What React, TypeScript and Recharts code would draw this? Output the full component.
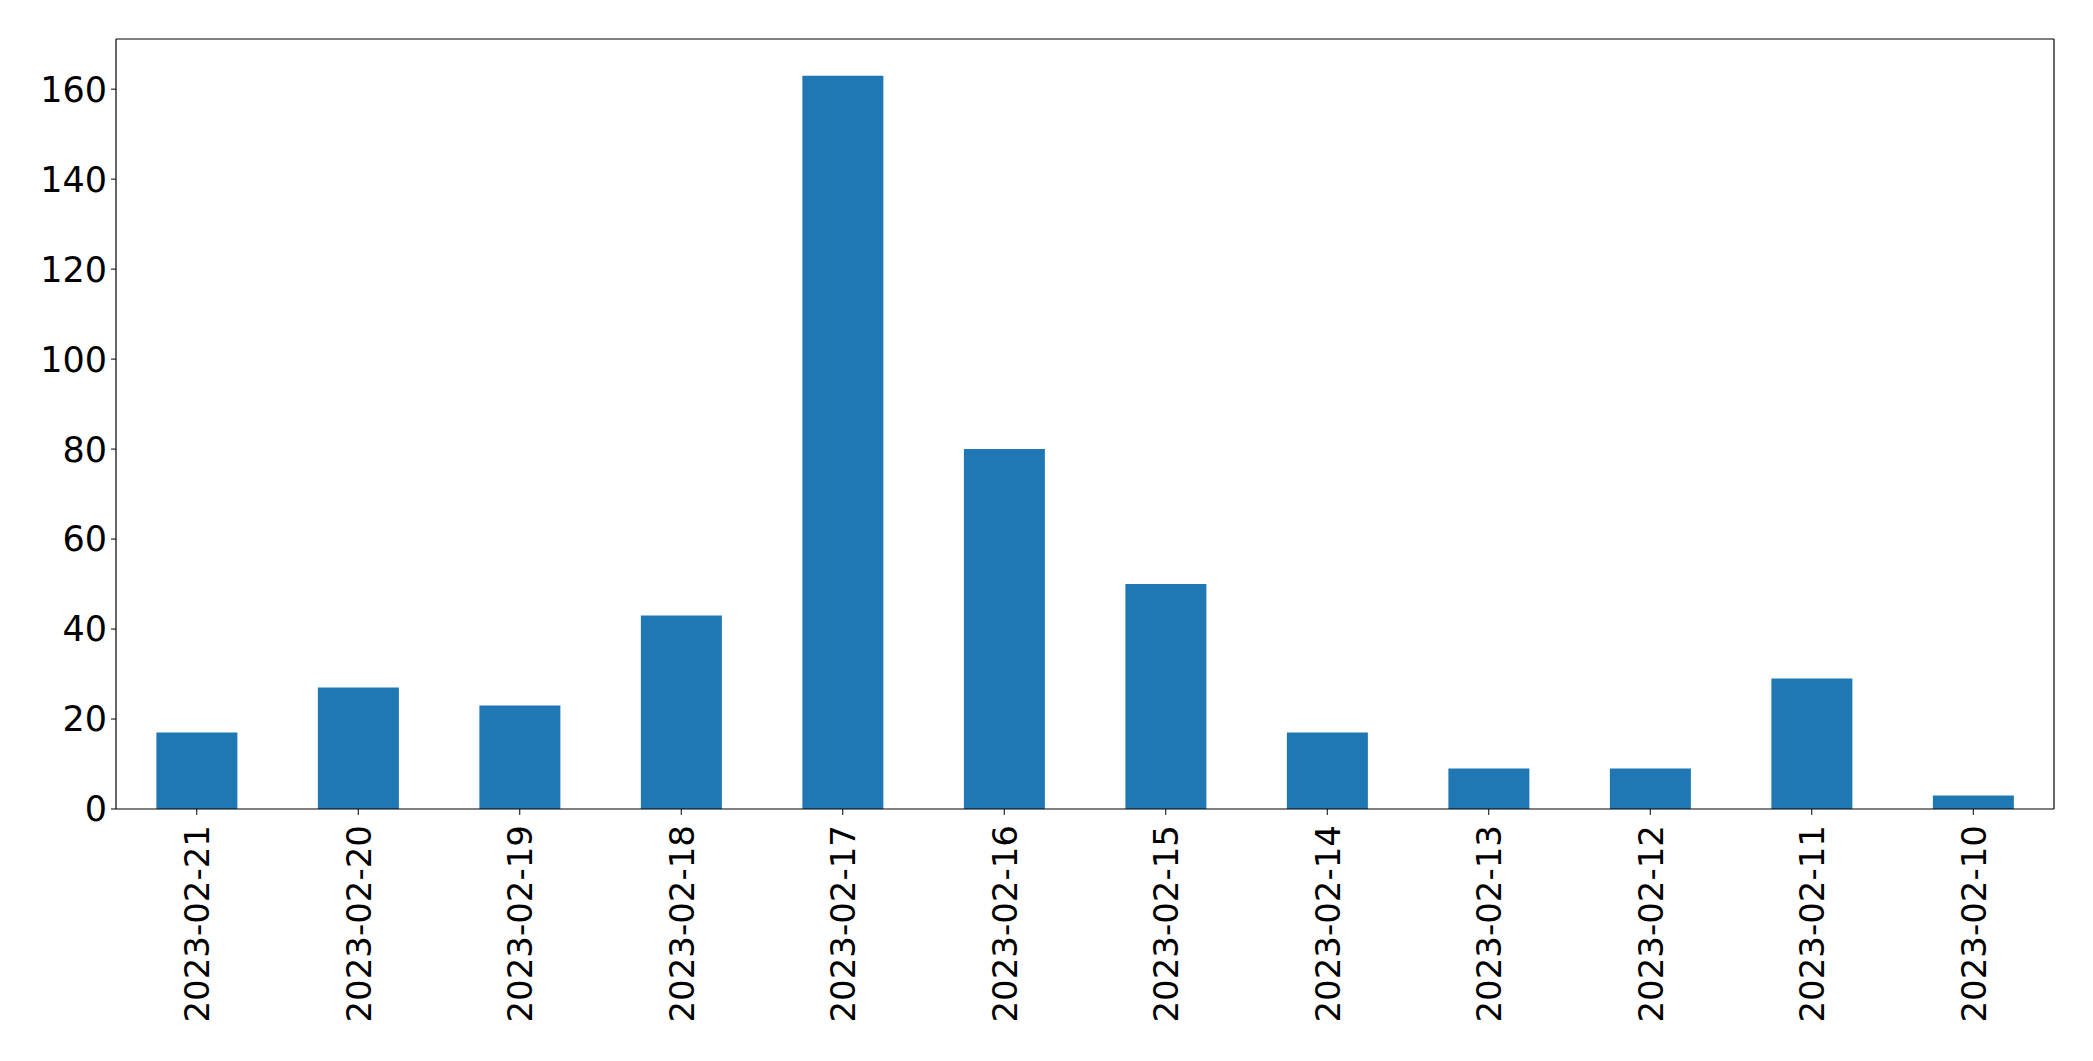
import React from "react";
import { BarChart, Bar, XAxis, YAxis } from "recharts";

const dates = [
  "2023-02-21",
  "2023-02-20",
  "2023-02-19",
  "2023-02-18",
  "2023-02-17",
  "2023-02-16",
  "2023-02-15",
  "2023-02-14",
  "2023-02-13",
  "2023-02-12",
  "2023-02-11",
  "2023-02-10",
];
const counts = [17, 27, 23, 43, 163, 80, 50, 17, 9, 9, 29, 3];
const yTicks = [0, 20, 40, 60, 80, 100, 120, 140, 160];

const data = dates.map((d, i) => ({ date: d, count: counts[i] }));
const yMax = Math.max(...counts) * 1.05;

const FONT = "'DejaVu Sans', sans-serif";

function DateTick(props: any) {
  const { x, y, payload } = props;
  return (
    <text
      x={0}
      y={0}
      transform={`translate(${x},${y + 8}) rotate(-90)`}
      textAnchor="end"
      dy="0.36em"
      fontSize={34}
      fontFamily={FONT}
      fill="#000"
    >
      {payload.value}
    </text>
  );
}

export default function App() {
  return (
    <div style={{ position: "absolute", left: 0, top: 0, background: "#fff" }}>
      <BarChart
        width={2093}
        height={1061}
        data={data}
        margin={{ top: 0, right: 0, bottom: 0, left: 0 }}
        barCategoryGap="25%"
      >
        <XAxis
          dataKey="date"
          height={252}
          interval={0}
          tickSize={6}
          tickMargin={2}
          tick={<DateTick />}
          stroke="#000"
          tickLine={{ stroke: "#000" }}
          axisLine={{ stroke: "#000", strokeWidth: 1.2 }}
        />
        <XAxis
          xAxisId="top"
          dataKey="date"
          orientation="top"
          height={39}
          tick={false}
          tickLine={false}
          axisLine={{ stroke: "#000", strokeWidth: 1.2 }}
        />
        <YAxis
          type="number"
          domain={[0, yMax]}
          ticks={yTicks}
          width={116}
          tickSize={5}
          tickMargin={4}
          tick={{ fontSize: 35, fontFamily: FONT, fill: "#000" }}
          tickLine={{ stroke: "#000" }}
          axisLine={{ stroke: "#000", strokeWidth: 1.2 }}
        />
        <YAxis
          yAxisId="right"
          orientation="right"
          type="number"
          domain={[0, yMax]}
          width={39}
          tick={false}
          tickLine={false}
          axisLine={{ stroke: "#000", strokeWidth: 1.2 }}
        />
        <Bar dataKey="count" fill="#1f77b4" isAnimationActive={false} />
      </BarChart>
    </div>
  );
}
